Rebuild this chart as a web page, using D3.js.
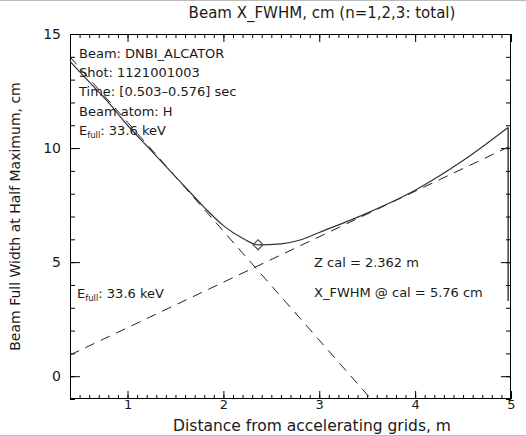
<!DOCTYPE html>
<html>
<head>
<meta charset="utf-8">
<script src="https://cdn.jsdelivr.net/npm/d3@7"></script>
<style>
  body { margin: 0; background: #fff; }
  svg { display: block; }
  text { font-family: "DejaVu Sans", sans-serif; fill: #1a1a1a; }
</style>
</head>
<body>
<svg id="chart" width="526" height="436"></svg>
<script>
// Beam X FWHM along the beam line (total of n=1,2,3 components)
const distance = [0.4, 0.6, 0.8, 1.0, 1.2, 1.4, 1.6, 1.8, 2.0, 2.2, 2.362, 2.6, 2.8, 3.0, 3.5, 4.0, 4.5, 4.97, 4.97];
const fwhmTotal = [13.8, 12.9, 12.0, 11.0, 10.1, 9.2, 8.3, 7.4, 6.6, 6.05, 5.76, 5.8, 5.97, 6.3, 7.15, 8.15, 9.45, 10.9, 3.3];

// Asymptotes: focusing (near) and divergent (far) parts
const nearZ = [0.4, 3.54];
const nearFwhm = [14.0, -1.0];
const farZ = [0.4, 5.0];
const farFwhm = [0.93, 10.1];

// Calibration point
const zCal = 2.362;
const fwhmCal = 5.76;

// Axis ticks
const xMajorTicks = [1, 2, 3, 4, 5];
const yMajorTicks = [0, 5, 10, 15];
const xDomain = [0.4, 5.0];
const yDomain = [-1, 15];

const infoLines = ["Beam: DNBI_ALCATOR", "Shot: 1121001003", "Time: [0.503\u20130.576] sec", "Beam atom: H"];
const energyKeV = 33.6;

const svg = d3.select("#chart");
const L = 70, R = 511, T = 34, B = 399;

const x = d3.scaleLinear().domain(xDomain).range([L, R]);
const y = d3.scaleLinear().domain(yDomain).range([B, T]);

// thin grey edges of the canvas
svg.append("line").attr("x1", 0).attr("x2", 526).attr("y1", 0.5).attr("y2", 0.5).attr("stroke", "#bbb");
svg.append("line").attr("x1", 0).attr("x2", 526).attr("y1", 435.5).attr("y2", 435.5).attr("stroke", "#bbb");

svg.append("clipPath").attr("id", "plotclip")
  .append("rect").attr("x", L).attr("y", T).attr("width", R - L).attr("height", B - T);

// axes (IDL style: ticks inward on all four sides)
const minorX = d3.range(Math.round(xDomain[0] * 10), Math.round(xDomain[1] * 10) + 1).map(d => d / 10);
const minorY = d3.range(yDomain[0], yDomain[1] + 1);

function styleAxis(g, size) {
  g.select(".domain").remove();
  g.selectAll("line").attr("stroke", "#000").attr("stroke-width", 1);
  g.selectAll("text").attr("font-size", size || 14).attr("fill", "#1a1a1a")
    .attr("font-family", "DejaVu Sans, sans-serif");
}

svg.append("g").attr("transform", `translate(0,${B})`)
  .call(d3.axisBottom(x).tickValues(minorX).tickSize(-4).tickFormat("")).call(styleAxis);
svg.append("g").attr("transform", `translate(0,${B})`)
  .call(d3.axisBottom(x).tickValues(xMajorTicks).tickSize(-8).tickPadding(1).tickFormat(d3.format("d")))
  .call(g => styleAxis(g, 13));
svg.append("g").attr("transform", `translate(0,${T})`)
  .call(d3.axisTop(x).tickValues(minorX).tickSize(-4).tickFormat("")).call(styleAxis);
svg.append("g").attr("transform", `translate(0,${T})`)
  .call(d3.axisTop(x).tickValues(xMajorTicks).tickSize(-8).tickFormat("")).call(styleAxis);

svg.append("g").attr("transform", `translate(${L},0)`)
  .call(d3.axisLeft(y).tickValues(minorY).tickSize(-5).tickFormat("")).call(styleAxis);
svg.append("g").attr("transform", `translate(${L},0)`)
  .call(d3.axisLeft(y).tickValues(yMajorTicks).tickSize(-10).tickPadding(9).tickFormat(d3.format("d")))
  .call(g => styleAxis(g, 14));
svg.append("g").attr("transform", `translate(${R},0)`)
  .call(d3.axisRight(y).tickValues(minorY).tickSize(-5).tickFormat("")).call(styleAxis);
svg.append("g").attr("transform", `translate(${R},0)`)
  .call(d3.axisRight(y).tickValues(yMajorTicks).tickSize(-10).tickFormat("")).call(styleAxis);

svg.append("rect").attr("x", L + 0.5).attr("y", T + 0.5).attr("width", R - L - 1).attr("height", B - T - 1)
  .attr("fill", "none").attr("stroke", "#000");

const plot = svg.append("g").attr("clip-path", "url(#plotclip)");
const line = d3.line().x(d => x(d[0])).y(d => y(d[1]));
const smooth = d3.line().x(d => x(d[0])).y(d => y(d[1])).curve(d3.curveMonotoneX);

plot.append("path").datum(d3.zip(nearZ, nearFwhm)).attr("d", line)
  .attr("fill", "none").attr("stroke", "#222").attr("stroke-dasharray", "10,7");
plot.append("path").datum(d3.zip(farZ, farFwhm)).attr("d", line)
  .attr("fill", "none").attr("stroke", "#222").attr("stroke-dasharray", "10,7");

// total FWHM: smooth profile, then the closing drop at the last sample
const total = d3.zip(distance, fwhmTotal);
plot.append("path").datum(total.slice(0, -1)).attr("d", smooth)
  .attr("fill", "none").attr("stroke", "#333").attr("stroke-width", 1.2);
plot.append("path").datum(total.slice(-2)).attr("d", line)
  .attr("fill", "none").attr("stroke", "#111").attr("stroke-width", 1.2);

// calibration marker
const s = 5;
const cx = x(zCal), cy = y(fwhmCal);
svg.append("path")
  .attr("d", `M${cx},${cy - s}L${cx + s},${cy}L${cx},${cy + s}L${cx - s},${cy}Z`)
  .attr("fill", "none").attr("stroke", "#555").attr("stroke-width", 1.2);

// titles
svg.append("text").attr("x", 322).attr("y", 18).attr("text-anchor", "middle").attr("font-size", 15)
  .text("Beam X_FWHM, cm (n=1,2,3: total)");
svg.append("text").attr("x", 312).attr("y", 431).attr("text-anchor", "middle").attr("font-size", 15.5)
  .text("Distance from accelerating grids, m");
svg.append("text").attr("transform", `translate(20,${(T + B) / 2}) rotate(-90)`).attr("text-anchor", "middle")
  .attr("font-size", 14).text("Beam Full Width at Half Maximum, cm");

// annotation block
const fs = 13;
infoLines.forEach((t, i) => {
  svg.append("text").attr("x", 79).attr("y", 58 + i * 19.2).attr("font-size", fs).text(t);
});
function energyLabel(px, py) {
  const t = svg.append("text").attr("x", px).attr("y", py).attr("font-size", fs);
  t.append("tspan").text("E");
  t.append("tspan").attr("font-size", 8.5).attr("dy", 3).text("full");
  t.append("tspan").attr("dy", -3).text(`: ${energyKeV} keV`);
}
energyLabel(79, 135);
energyLabel(77, 298);

svg.append("text").attr("x", 314).attr("y", 267).attr("font-size", fs).text(`Z cal = ${zCal} m`);
svg.append("text").attr("x", 314).attr("y", 297).attr("font-size", fs).text(`X_FWHM @ cal = ${fwhmCal} cm`);
</script>
</body>
</html>
